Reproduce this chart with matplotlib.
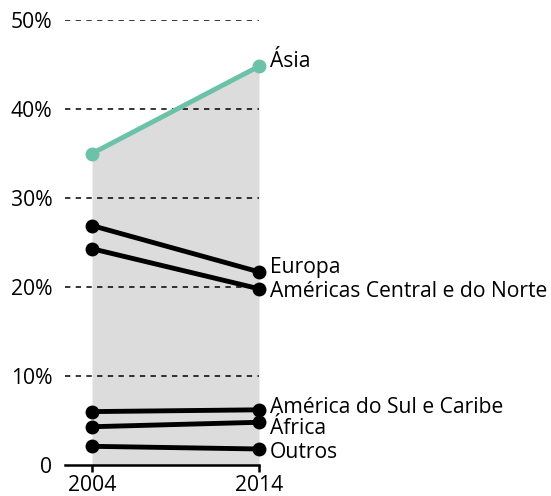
import matplotlib
matplotlib.use("Agg")
import matplotlib.pyplot as plt

years = [2004, 2014]
regions = ["Ásia", "Europa", "Américas Central e do Norte",
           "América do Sul e Caribe", "África", "Outros"]
values = {
    "Ásia": [35.0, 44.8],
    "Europa": [26.9, 21.7],
    "Américas Central e do Norte": [24.3, 19.8],
    "América do Sul e Caribe": [6.0, 6.2],
    "África": [4.3, 4.8],
    "Outros": [2.1, 1.8],
}
label_y = {
    "Ásia": 45.3,
    "Europa": 22.2,
    "Américas Central e do Norte": 19.5,
    "América do Sul e Caribe": 6.5,
    "África": 4.1,
    "Outros": 1.4,
}
colors = {r: "black" for r in regions}
colors["Ásia"] = "#6cc2a8"
yticks = [0, 10, 20, 30, 40, 50]
ytick_labels = ["0", "10%", "20%", "30%", "40%", "50%"]

plt.rcParams['font.family'] = ['Open Sans', 'DejaVu Sans']
FS = 15.2

fig = plt.figure(figsize=(5.51, 4.96), dpi=100)
ax = fig.add_axes([65/551, 31/496, (259-65)/551, (465-20)/496])
ax.set_xlim(2002.38, 2014)
ax.set_ylim(0, 50)

ax.fill_between(years, 0, values["Ásia"], color="#dcdcdc", lw=0, zorder=1)

for y in yticks[1:]:
    ax.axhline(y, color="black", lw=1.1, ls=(0, (3.5, 3.5)), zorder=2)

for r in regions:
    ax.plot(years, values[r], color=colors[r], lw=3.5, marker="o", ms=9,
            solid_capstyle="round", zorder=4, clip_on=False)
    ax.text(2014.65, label_y[r], r, fontsize=FS, va="center", ha="left",
            color="black")

for s in ["top", "right", "left"]:
    ax.spines[s].set_visible(False)
ax.spines["bottom"].set_linewidth(1.8)
ax.set_xticks(years)
ax.set_xticklabels([str(y) for y in years], fontsize=FS)
ax.tick_params(axis="x", length=5, width=1.8, pad=2)
ax.set_yticks(yticks)
ax.set_yticklabels(ytick_labels, fontsize=FS)
ax.tick_params(axis="y", length=0, pad=9)

fig.savefig("out.png", dpi=100)
